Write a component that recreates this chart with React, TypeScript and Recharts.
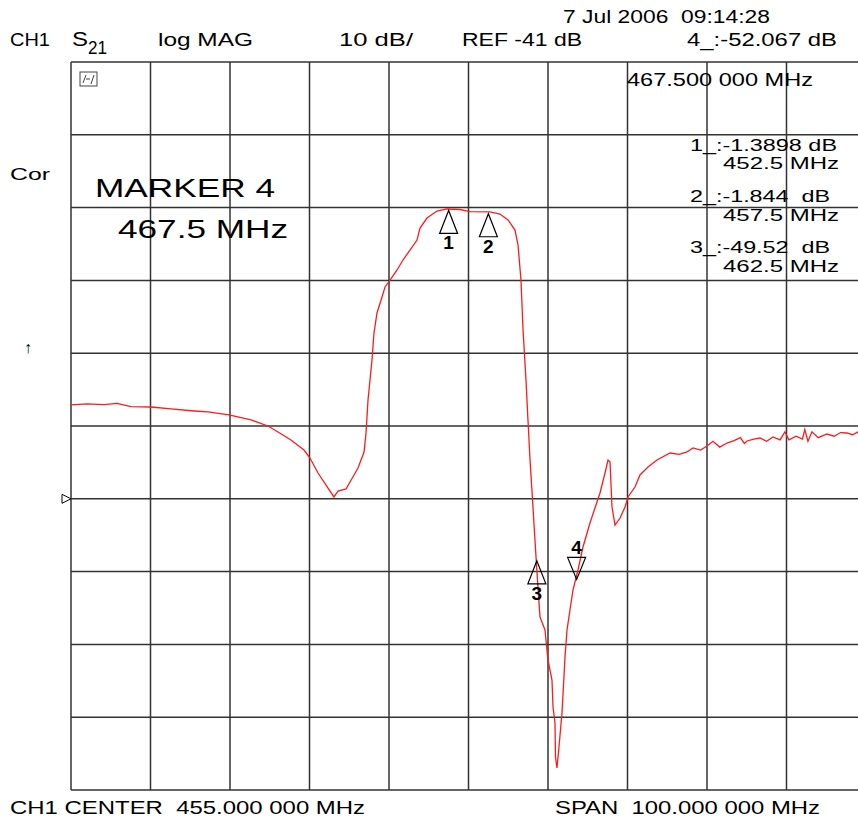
import React from 'react'
import { LineChart, Line, XAxis, YAxis, CartesianGrid, ReferenceDot } from 'recharts'

// frequency axis (MHz) and level axis (dB)
const xTicks = [405, 415, 425, 435, 445, 455, 465, 475, 485, 495, 505]
const yTicks = [19, 9, -1, -11, -21, -31, -41, -51, -61, -71, -81]

// S21 trace
const freqs = [
  405.0, 407.0, 409.15, 410.8, 412.55, 415.06, 417.58, 420.47, 422.23, 424.87,
  427.64, 429.78, 431.04, 432.67, 434.31, 435.06, 436.07, 437.33, 438.08, 438.58,
  439.59, 441.1, 441.86, 442.11, 442.36, 442.86, 443.11, 443.49, 444.12, 444.5,
  445.13, 446.01, 446.76, 447.64, 448.52, 448.9, 449.78, 451.04, 452.3, 453.93,
  455.19, 457.7, 458.96, 459.97, 460.85, 461.23, 461.6, 461.86, 462.23, 462.48,
  462.74, 463.11, 463.36, 463.62, 463.99, 464.62, 464.87, 465.0, 465.5, 465.63,
  465.88, 465.94, 466.13, 466.38, 466.76, 467.14, 467.39, 468.14, 468.77, 469.4,
  470.28, 471.54, 472.17, 472.55, 472.8, 473.05, 473.43, 474.06, 474.69, 475.06,
  475.94, 476.57, 477.58, 478.71, 480.35, 481.5, 482.48, 483.24, 484.2, 485.0,
  485.75, 486.6, 487.52, 488.4, 489.2, 489.7, 490.03, 490.9, 491.67, 492.5,
  493.3, 494.2, 494.8, 495.3, 496.2, 497.0, 497.3, 497.7, 498.2, 499.0,
  500.09, 501.0, 501.8, 502.6, 503.3, 504.0, 505.0,
]
const levels = [
  -28.1, -27.95, -28.07, -27.9, -28.35, -28.39, -28.66, -28.94, -29.07, -29.48,
  -30.17, -31.0, -31.82, -32.92, -34.3, -35.4, -37.46, -39.52, -40.75, -39.93,
  -39.65, -36.77, -34.57, -31.96, -27.43, -21.93, -18.23, -15.48, -13.28, -11.9,
  -10.95, -9.57, -8.2, -6.83, -5.46, -3.81, -2.43, -1.47, -1.19, -1.26,
  -1.54, -1.6, -1.88, -2.7, -4.08, -6.14, -10.95, -17.81, -24.68, -30.18,
  -35.67, -42.13, -46.66, -51.19, -57.23, -59.02, -61.77, -63.14, -65.89, -69.6,
  -71.8, -76.47, -77.98, -75.09, -70.42, -62.73, -59.02, -53.53, -50.78, -47.62,
  -44.32, -40.2, -37.46, -35.67, -35.95, -42.13, -44.6, -43.64, -42.13, -40.75,
  -39.38, -37.73, -36.63, -35.67, -34.71, -34.9, -34.57, -34.02, -34.3, -33.75,
  -33.1, -33.9, -33.34, -33.0, -32.6, -33.4, -33.06, -32.8, -32.65, -33.1,
  -32.51, -32.9, -31.8, -32.9, -32.4, -32.8, -31.5, -33.1, -31.8, -32.6,
  -32.1, -32.4, -31.9, -31.96, -32.2, -31.82, -31.7,
]

// markers
const markerFreqs = [452.5, 457.5, 463.6, 468.6]
const markerLevels = [-1.39, -1.844, -49.52, -52.067]
const markerLabels = ['1', '2', '3', '4']
const activeMarker = '4'

const refLevel = -41

const data = freqs.map((f, i) => ({ f, db: levels[i] }))

const font = '"Liberation Sans", Arial, sans-serif'

const MarkerShape = (props: any) => {
  const { cx, cy, label } = props
  if (label === activeMarker) {
    return (
      <g>
        <polygon points={`${cx},${cy} ${cx - 9},${cy - 22} ${cx + 9},${cy - 22}`} fill="none" stroke="#000" strokeWidth={1.2} />
        <text x={cx} y={cy - 25} textAnchor="middle" fontSize={19} fontFamily={font} fontWeight="bold">{label}</text>
      </g>
    )
  }
  return (
    <g>
      <polygon points={`${cx},${cy} ${cx - 9},${cy + 23} ${cx + 9},${cy + 23}`} fill="none" stroke="#000" strokeWidth={1.2} />
      <text x={cx} y={cy + 39} textAnchor="middle" fontSize={19} fontFamily={font} fontWeight="bold">{label}</text>
    </g>
  )
}

const RefArrow = (props: any) => {
  const { cx, cy } = props
  return <polygon points={`${cx},${cy} ${cx - 9},${cy - 4.5} ${cx - 9},${cy + 4.5}`} fill="#fff" stroke="#000" strokeWidth={1} />
}

const T = ({ x, y, s, fs = 18, len }: { x: number; y: number; s: string; fs?: number; len: number }) => (
  <text
    x={x}
    y={y}
    fontSize={fs}
    fontFamily={font}
    textLength={len}
    lengthAdjust="spacingAndGlyphs"
    style={{ whiteSpace: 'pre' }}
  >
    {s}
  </text>
)

export default function App() {
  return (
    <div style={{ position: 'absolute', left: 0, top: 0, width: 858, height: 818, overflow: 'hidden', background: '#fff' }}>
      <LineChart width={870} height={818} data={data} margin={{ top: 62, right: 4, bottom: 28, left: 71 }}>
        <CartesianGrid stroke="#333" strokeWidth={1.5} />
        <XAxis type="number" dataKey="f" domain={[405, 505]} ticks={xTicks} hide allowDataOverflow />
        <YAxis type="number" domain={[-81, 19]} ticks={yTicks} hide allowDataOverflow />
        <Line type="linear" dataKey="db" stroke="#ff1a1a" strokeWidth={1.3} dot={false} isAnimationActive={false} />
        {markerFreqs.map((f, i) => (
          <ReferenceDot
            key={markerLabels[i]}
            x={f}
            y={markerLevels[i]}
            ifOverflow="visible"
            shape={(p: any) => <MarkerShape {...p} label={markerLabels[i]} />}
          />
        ))}
        <ReferenceDot x={405} y={refLevel} ifOverflow="visible" shape={(p: any) => <RefArrow {...p} />} />
      </LineChart>

      <svg width={858} height={818} style={{ position: 'absolute', left: 0, top: 0, pointerEvents: 'none' }}>
        <T x={563} y={23} s="7 Jul 2006  09:14:28" len={207} />
        <T x={10} y={46} s="CH1" len={40} />
        <T x={72} y={46} s="S" fs={20} len={16} />
        <T x={88} y={54} s="21" len={19} />
        <T x={158} y={46} s="log MAG" len={95} />
        <T x={339} y={46} s="10 dB/" len={74} />
        <T x={462} y={46} s="REF -41 dB" len={120} />
        <T x={687} y={46} s="4_:-52.067 dB" len={150} />
        <T x={627} y={86} s="467.500 000 MHz" len={186} />

        <rect x={80} y={72} width={17} height={14} fill="none" stroke="#444" strokeWidth={1} />
        <path d="M83,83 L86,75 M86,79 L90,79 M91,84 L94,75" stroke="#444" strokeWidth={1} fill="none" />

        <T x={10} y={180} s="Cor" fs={17} len={40} />
        <T x={95} y={197} s="MARKER 4" fs={26} len={180} />
        <T x={118} y={238} s="467.5 MHz" fs={26} len={170} />

        <T x={690} y={151} s="1_:-1.3898 dB" fs={16} len={147} />
        <T x={723} y={169} s="452.5 MHz" fs={16} len={116} />
        <T x={690} y={202} s="2_:-1.844  dB" fs={16} len={140} />
        <T x={723} y={221} s="457.5 MHz" fs={16} len={116} />
        <T x={690} y={253} s="3_:-49.52  dB" fs={16} len={140} />
        <T x={723} y={272} s="462.5 MHz" fs={16} len={116} />

        <text x={24} y={353} fontSize={16} fontFamily={font} fill="#000">↑</text>

        <T x={10} y={814} s="CH1 CENTER  455.000 000 MHz" len={355} />
        <T x={555} y={814} s="SPAN  100.000 000 MHz" len={265} />
      </svg>
    </div>
  )
}
